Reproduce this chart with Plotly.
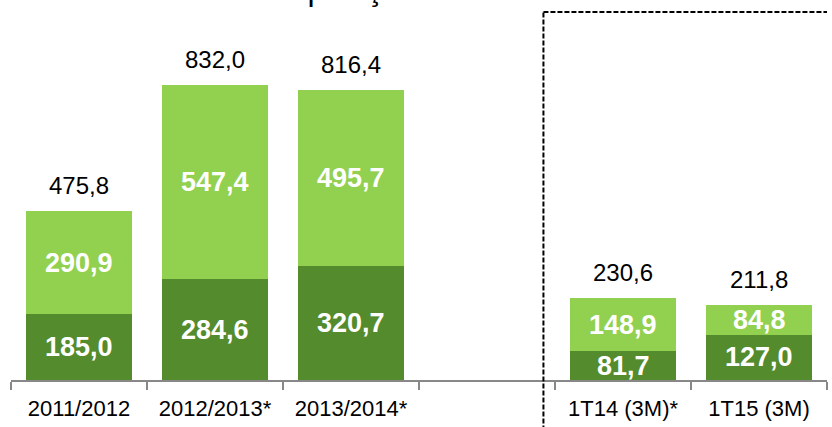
import plotly.graph_objects as go

categories = ["2011/2012", "2012/2013*", "2013/2014*", " ", "1T14 (3M)*", "1T15 (3M)"]
dark_values = [185.0, 284.6, 320.7, None, 81.7, 127.0]
light_values = [290.9, 547.4, 495.7, None, 148.9, 84.8]
totals = [475.8, 832.0, 816.4, None, 230.6, 211.8]
title_text = "Composição da Receita"

DARK = "#548B2C"
LIGHT = "#92D050"
FONT = "Liberation Sans, Arial, sans-serif"


def fmt(v):
    return f"{v:.1f}".replace(".", ",")


fig = go.Figure()
fig.add_trace(go.Bar(x=categories, y=dark_values, marker=dict(color=DARK, line=dict(width=0)),
                     hoverinfo="skip"))
fig.add_trace(go.Bar(x=categories, y=light_values, marker=dict(color=LIGHT, line=dict(width=0)),
                     hoverinfo="skip"))

annotations = []
for c, d, l, t in zip(categories, dark_values, light_values, totals):
    if d is None:
        continue
    annotations.append(dict(x=c, y=d / 2, text=f"<b>{fmt(d)}</b>", showarrow=False,
                            font=dict(family=FONT, size=27, color="white"), yanchor="middle"))
    annotations.append(dict(x=c, y=d + l / 2, text=f"<b>{fmt(l)}</b>", showarrow=False,
                            font=dict(family=FONT, size=27, color="white"), yanchor="middle"))
    annotations.append(dict(x=c, y=t, text=fmt(t), showarrow=False, yshift=10,
                            font=dict(family=FONT, size=24, color="black"), yanchor="bottom"))

annotations.append(dict(xref="paper", yref="paper", x=0.278, y=1.0306, xanchor="left",
                        yanchor="bottom", text=title_text, showarrow=False,
                        font=dict(family=FONT, size=32, color="black")))

fig.update_layout(
    width=832, height=427,
    margin=dict(l=11, r=5, t=20, b=47),
    barmode="stack", bargap=0.22,
    plot_bgcolor="white", paper_bgcolor="white",
    showlegend=False,
    annotations=annotations,
    xaxis=dict(type="category", categoryorder="array", categoryarray=categories,
               tickson="boundaries", ticks="outside", ticklen=8, tickwidth=2,
               tickcolor="#888888", showline=True, linecolor="#888888", linewidth=2,
               showgrid=False, tickfont=dict(family=FONT, size=22, color="black"),
               ticklabelstandoff=8, range=[-0.5, 5.5]),
    yaxis=dict(range=[0, 1015], visible=False, showgrid=False, zeroline=False),
    shapes=[
        dict(type="line", xref="x", yref="paper", x0=3.415, x1=3.415, y0=-0.14, y1=1.022,
             line=dict(color="black", width=2, dash="5px,2px")),
        dict(type="line", xref="x", yref="paper", x0=3.415, x1=6.0, y0=1.022, y1=1.022,
             line=dict(color="black", width=2, dash="5px,2px")),
    ],
)

fig.write_html("out.html", config={"displayModeBar": False},
               post_script="document.body.style.margin='0';")
